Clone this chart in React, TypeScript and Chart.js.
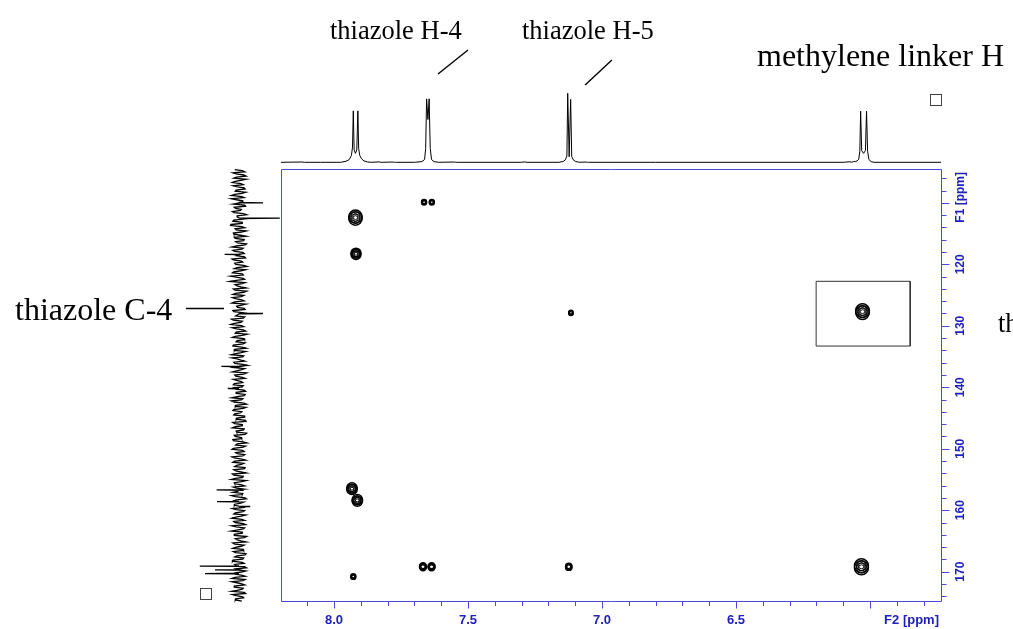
import React, { useEffect, useRef } from "react";
import { Chart, registerables } from "chart.js";

Chart.register(...registerables);

const W = 1013;
const H = 629;

// ---- F2 (1H) axis ----
const f2Range = [8.1978, 5.7351];
const f2Ticks = [8.1, 8.0, 7.9, 7.8, 7.7, 7.6, 7.5, 7.4, 7.3, 7.2, 7.1, 7.0, 6.9, 6.8, 6.7, 6.6, 6.5, 6.4, 6.3, 6.2, 6.1, 6.0, 5.9, 5.8];
const f2Labels = [8.0, 7.5, 7.0, 6.5];
const f2Title = "F2 [ppm]";

// ---- F1 (13C) axis ----
const f1Range = [104.5, 174.93];
const f1Ticks = [106, 108, 110, 112, 114, 116, 118, 120, 122, 124, 126, 128, 130, 132, 134, 136, 138, 140, 142, 144, 146, 148, 150, 152, 154, 156, 158, 160, 162, 164, 166, 168, 170, 172, 174];
const f1Labels = [120, 130, 140, 150, 160, 170];
const f1Title = "F1 [ppm]";

// ---- 2D cross peaks ----
const crossF2 = [7.664, 7.635, 7.92, 7.918, 7.116, 6.028, 7.933, 7.913, 7.928, 7.668, 7.636, 7.124, 6.032];
const crossF1 = [109.9, 109.9, 112.4, 118.3, 127.9, 127.7, 156.5, 158.4, 170.8, 169.2, 169.2, 169.2, 169.2];
const crossIntensity = [0.12, 0.12, 0.9, 0.5, 0.1, 0.95, 0.55, 0.55, 0.12, 0.24, 0.24, 0.2, 1.0];

// ---- highlighted region ----
const boxF2 = [6.201, 5.85];
const boxF1 = [122.77, 133.3];

// ---- 1H projection (top) ----
const hPpm = [8.198, 8.12, 8.11, 8.05, 7.975, 7.955, 7.943, 7.935, 7.931, 7.928, 7.925, 7.92, 7.915, 7.911, 7.908, 7.904, 7.897, 7.888, 7.875, 7.86, 7.83, 7.825, 7.82, 7.78, 7.775, 7.77, 7.7, 7.672, 7.662, 7.658, 7.6545, 7.6495, 7.645, 7.641, 7.636, 7.627, 7.61, 7.55, 7.545, 7.54, 7.3, 7.29, 7.28, 7.16, 7.145, 7.137, 7.131, 7.128, 7.1225, 7.117, 7.113, 7.106, 7.098, 7.085, 7.06, 7.055, 7.05, 6.8, 6.1, 6.075, 6.068, 6.062, 6.055, 6.048, 6.042, 6.038, 6.035, 6.031, 6.024, 6.017, 6.013, 6.009, 6.004, 5.996, 5.985, 5.735];
const hInt = [0, 0.004, 0, 0, 0, 0.015, 0.04, 0.1, 0.22, 0.745, 0.18, 0.13, 0.18, 0.745, 0.2, 0.1, 0.05, 0.02, 0.005, 0, 0.006, 0, 0, 0.004, 0, 0, 0, 0.01, 0.04, 0.2, 0.92, 0.62, 0.92, 0.2, 0.04, 0.01, 0, 0.004, 0, 0, 0, 0.006, 0, 0, 0.012, 0.035, 0.09, 1.0, 0.08, 0.913, 0.08, 0.03, 0.012, 0, 0.004, 0, 0, 0, 0, 0.008, 0, 0.01, 0.012, 0.02, 0.045, 0.16, 0.74, 0.17, 0.13, 0.17, 0.74, 0.16, 0.04, 0.01, 0, 0];

// ---- 13C projection (left); noise in units of 1/85 full scale, two interleaved sample sets ----
const projStart = 104.6;
const projStep = 0.35;
const noiseUnit = 85;
const projNoiseA = [
  9, -12, 6, -15, 11, -4, 14, -9, 3, -13, 8, -6, 16, -11, 5, -8, 12, -14, 7, -3,
  10, -16, 4, -9, 13, -7, 18, -12, 6, -5, 11, -15, 8, -10, 3, -13, 15, -6, 9, -11,
  5, -14, 12, -8, 7, -17, 10, -4, 14, -9, 6, -12, 19, -7, 4, -15, 9, -10, 13, -5,
  8, -11, 15, -6, 3, -13, 11, -16, 7, -9, 12, -4, 17, -10, 5, -14, 8, -7, 14, -12,
  6, -9, 13, -15, 10, -5, 16, -8, 4, -12, 9, -18, 11, -6, 14, -10, 7, -13, 5, -8,
  12, -7, 9, -14, 6, -11, 15, -5, 10, -16, 8, -9, 13, -4, 11, -12, 6, -15, 9, -7,
  14, -10, 5, -13, 8, -6, 12, -17, 7, -9, 15, -11, 4, -8, 10, -14, 13, -5, 9, -12,
  7, -15, 11, -8, 16, -6, 9, -12, 5, -10, 13, -7, 8, -16, 12, -4, 10, -13, 6, -9,
  11, -5, 15, -12, 8, -14, 6, -9, 17, -7, 10, -11, 5, -15, 9, -6, 13, -10, 7, -13,
  9, -8, 14, -11, 6, -16, 12, -5, 8, -13, 15, -9, 4, -12, 10, -7, 16, -14, 6, -10,
  8,
];
const projNoiseB = [
  -7, 13, -10, 5, -15, 8, -4, 12, -11, 6, -14, 9, -6, 16, -8, 3, -12, 10, -5, 14,
  -9, 4, -13, 11, -7, 17, -6, 8, -15, 12, -3, 10, -11, 7, -16, 5, -9, 13, -8, 6,
  -12, 15, -5, 9, -10, 4, -14, 11, -7, 18, -9, 6, -13, 8, -4, 12, -16, 7, -10, 14,
  -6, 9, -15, 5, -11, 13, -8, 3, -12, 16, -7, 10, -5, 14, -9, 6, -17, 8, -11, 4,
  -13, 12, -6, 9, -14, 7, -10, 15, -4, 11, -8, 13, -12, 5, -16, 9, -7, 12, -5, 10,
  -9, 14, -11, 6, -13, 4, -8, 16, -10, 7, -15, 11, -6, 9, -12, 5, -14, 13, -7, 8,
  -11, 6, -16, 10, -5, 13, -9, 4, -14, 12, -8, 7, -12, 15, -6, 9, -10, 5, -13, 11,
  -4, 14, -9, 7, -15, 10, -6, 12, -11, 3, -8, 16, -13, 6, -10, 9, -5, 14, -12, 8,
  -14, 7, -6, 11, -9, 15, -12, 5, -7, 10, -16, 8, -4, 13, -11, 6, -9, 12, -15, 4,
  -10, 13, -7, 9, -12, 6, -14, 11, -5, 8, -13, 15, -6, 10, -9, 4, -11, 14, -8, 7,
  -6,
];
const projPeakF1 = [110.0, 112.5, 118.4, 128.0, 136.6, 140.2, 156.7, 158.6, 159.4, 169.1, 169.7, 170.3];
const projPeakInt = [-0.6, -1.02, 0.36, -0.6, 0.44, 0.28, 0.56, 0.55, -0.28, 0.98, 0.6, 0.85];

// ---- annotation leaders ----
const leaderH4 = [{ x: 7.612, y: 1.28 }, { x: 7.5, y: 1.627 }];
const leaderH5 = [{ x: 7.063, y: 1.12 }, { x: 6.963, y: 1.483 }];
const leaderC4 = [{ x: 1.325, y: 127.2 }, { x: 0.375, y: 127.2 }];

const AXIS = "rgb(74,74,222)";
const LABEL = "rgb(32,32,190)";
const SERIF = '"Liberation Serif", "Times New Roman", serif';
const SANS = '"Liberation Sans", Arial, sans-serif';

const sidePlugin = {
  id: "sideScales",
  afterLayout(chart: any) {
    const t = chart.scales.yTop;
    t.top = 93.3;
    t.bottom = 162.3;
    t.height = t.bottom - t.top;
    t.configure();
    const p = chart.scales.xProj;
    p.left = 199;
    p.right = 279;
    p.width = p.right - p.left;
    p.configure();
  },
};

const axesPlugin = {
  id: "nmrAxes",
  afterDatasetsDraw(chart: any) {
    const { ctx, chartArea: a } = chart;
    const sx = chart.scales.x;
    const sy = chart.scales.y;
    ctx.save();
    ctx.strokeStyle = AXIS;
    ctx.lineWidth = 1;
    ctx.beginPath();
    ctx.rect(a.left + 0.5, a.top + 0.5, a.right - a.left, a.bottom - a.top - 1);
    ctx.stroke();
    ctx.beginPath();
    f2Ticks.forEach((v) => {
      const px = Math.round(sx.getPixelForValue(v)) + 0.5;
      const major = Math.abs(v * 2 - Math.round(v * 2)) < 1e-6;
      ctx.moveTo(px, a.bottom - 0.5);
      ctx.lineTo(px, a.bottom - 0.5 + (major ? 7 : 4.5));
    });
    f1Ticks.forEach((v) => {
      const py = Math.round(sy.getPixelForValue(v)) + 0.5;
      const major = v % 10 === 0;
      ctx.moveTo(a.right + 0.5, py);
      ctx.lineTo(a.right + 0.5 + (major ? 8 : 5), py);
    });
    ctx.stroke();

    ctx.fillStyle = LABEL;
    ctx.font = `bold 13px ${SANS}`;
    ctx.textAlign = "center";
    ctx.textBaseline = "middle";
    f2Labels.forEach((v) => {
      ctx.fillText(v.toFixed(1), sx.getPixelForValue(v), a.bottom + 18);
    });
    ctx.textAlign = "right";
    ctx.fillText(f2Title, a.right - 2, a.bottom + 18);

    ctx.font = `bold 12px ${SANS}`;
    f1Labels.forEach((v) => {
      ctx.save();
      ctx.translate(a.right + 20, sy.getPixelForValue(v));
      ctx.rotate(-Math.PI / 2);
      ctx.textAlign = "center";
      ctx.fillText(String(v), 0, 0);
      ctx.restore();
    });
    ctx.save();
    ctx.translate(a.right + 20, a.top + 3);
    ctx.rotate(-Math.PI / 2);
    ctx.textAlign = "right";
    ctx.fillText(f1Title, 0, 0);
    ctx.restore();
    ctx.restore();
  },
};

const notesPlugin = {
  id: "notes",
  afterDraw(chart: any) {
    const { ctx } = chart;
    ctx.save();
    ctx.fillStyle = "#000";
    ctx.textBaseline = "alphabetic";
    ctx.textAlign = "left";
    ctx.font = `26.5px ${SERIF}`;
    ctx.fillText("thiazole H-4", 330, 39);
    ctx.fillText("thiazole H-5", 522, 39);
    ctx.fillText("thiazole C-5", 998, 332);
    ctx.font = `32px ${SERIF}`;
    ctx.fillText("thiazole C-4", 15, 320);
    ctx.fillText("methylene linker H", 757, 66);
    ctx.strokeStyle = "#444";
    ctx.lineWidth = 1;
    ctx.strokeRect(930.5, 94.5, 11, 11);
    ctx.strokeRect(200.5, 588.5, 11, 11);
    ctx.restore();
  },
};

function buildDatasets() {
  const ds: any[] = [];
  const levels = [1, 0.7, 0.42];
  const widths = [1.5, 1.2, 1.0];
  const stretch = [-0.16, 0.16];
  levels.forEach((f, li) => {
    const pts: any[] = [];
    crossF2.forEach((x, i) => {
      const s = Math.sqrt(crossIntensity[i]);
      const r = 7 * s * f;
      if (r >= 1.5 || li === 0) {
        stretch.forEach((dy) => pts.push({ x, y: crossF1[i] + dy * s, r }));
      }
    });
    ds.push({
      type: "bubble",
      data: pts,
      xAxisID: "x",
      yAxisID: "y",
      backgroundColor: "rgba(0,0,0,0)",
      borderColor: "#000",
      borderWidth: widths[li],
      clip: false,
    });
  });

  ds.push({
    type: "line",
    data: [
      { x: boxF2[0], y: boxF1[0] },
      { x: boxF2[1], y: boxF1[0] },
      { x: boxF2[1], y: boxF1[1] },
      { x: boxF2[0], y: boxF1[1] },
      { x: boxF2[0], y: boxF1[0] },
    ],
    xAxisID: "x",
    yAxisID: "y",
    borderColor: "#333",
    borderWidth: 1,
    pointRadius: 0,
    tension: 0,
    clip: false,
  });

  ds.push({
    type: "line",
    data: hPpm.map((x, i) => ({ x, y: hInt[i] })),
    xAxisID: "x",
    yAxisID: "yTop",
    borderColor: "#000",
    borderWidth: 1,
    pointRadius: 0,
    tension: 0,
    clip: false,
  });

  const proj: any[] = [];
  projNoiseA.forEach((n, i) => proj.push({ x: n / noiseUnit, y: projStart + i * projStep }));
  projNoiseB.forEach((n, i) => proj.push({ x: n / noiseUnit, y: projStart + (i + 0.5) * projStep }));
  projPeakF1.forEach((f, k) => {
    proj.push({ x: 0, y: f - 0.05 }, { x: projPeakInt[k], y: f }, { x: 0, y: f + 0.05 });
  });
  proj.sort((a, b) => a.y - b.y);
  ds.push({
    type: "line",
    data: proj,
    xAxisID: "xProj",
    yAxisID: "y",
    borderColor: "#000",
    borderWidth: 1.3,
    pointRadius: 0,
    tension: 0,
    clip: false,
  });

  [leaderH4, leaderH5].forEach((l) =>
    ds.push({
      type: "line",
      data: l,
      xAxisID: "x",
      yAxisID: "yTop",
      borderColor: "#000",
      borderWidth: 1.4,
      pointRadius: 0,
      clip: false,
    })
  );
  ds.push({
    type: "line",
    data: leaderC4,
    xAxisID: "xProj",
    yAxisID: "y",
    borderColor: "#000",
    borderWidth: 1.6,
    pointRadius: 0,
    clip: false,
  });
  return ds;
}

export default function App() {
  const ref = useRef<HTMLCanvasElement | null>(null);
  useEffect(() => {
    if (!ref.current) return;
    const chart = new Chart(ref.current, {
      type: "scatter",
      data: { datasets: buildDatasets() },
      options: {
        responsive: false,
        animation: false,
        devicePixelRatio: 1,
        events: [],
        layout: { padding: { left: 281, top: 169, right: W - 941, bottom: H - 602 } },
        plugins: { legend: { display: false }, tooltip: { enabled: false }, title: { display: false } },
        scales: {
          x: { type: "linear", min: f2Range[1], max: f2Range[0], reverse: true, display: false },
          y: { type: "linear", min: f1Range[0], max: f1Range[1], reverse: true, display: false },
          yTop: { type: "linear", min: 0, max: 1, display: false, position: "left" },
          xProj: { type: "linear", min: -1, max: 1, reverse: true, display: false, position: "bottom" },
        },
      } as any,
      plugins: [sidePlugin, axesPlugin, notesPlugin],
    });
    return () => chart.destroy();
  }, []);
  return (
    <div style={{ position: "fixed", left: 0, top: 0, width: W, height: H, background: "#fff", overflow: "hidden" }}>
      <canvas ref={ref} width={W} height={H} style={{ display: "block" }} />
    </div>
  );
}
